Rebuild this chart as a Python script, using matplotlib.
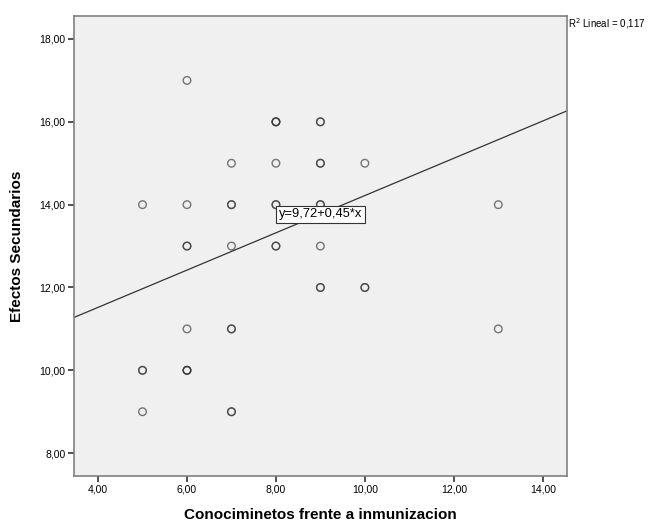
import numpy as np
import matplotlib
matplotlib.use("Agg")
import matplotlib.pyplot as plt

plt.rcParams['font.family'] = ['Liberation Sans', 'DejaVu Sans']

# puntos (conocimientos, efectos) y cuantas veces se repite cada uno
conoc = [5, 5, 5, 6, 6, 6, 6, 6, 7, 7, 7, 7, 7, 8, 8, 8, 8, 9, 9, 9, 9, 9, 10, 10, 13, 13]
efectos = [14, 10, 9, 17, 14, 13, 11, 10, 15, 14, 13, 11, 9, 16, 15, 14, 13, 16, 15, 14, 13, 12, 15, 12, 14, 11]
repes = [1, 2, 1, 1, 1, 2, 1, 3, 1, 2, 1, 2, 2, 3, 1, 2, 2, 2, 2, 2, 1, 2, 1, 2, 1, 1]

intercepto = 9.72
pendiente = 0.45
r2 = "0,117"

xticks = [4, 6, 8, 10, 12, 14]
yticks = [8, 10, 12, 14, 16, 18]


def coma(v):
    return ("%.2f" % v).replace(".", ",")


fig = plt.figure(figsize=(6.55, 5.23), dpi=100)
ax = fig.add_axes([0.113, 0.090, 0.753, 0.879])
ax.set_facecolor('#f0f0f0')

xs = np.repeat(conoc, repes)
ys = np.repeat(efectos, repes)
ax.scatter(xs, ys, s=30, facecolors='none', edgecolors=(0.2, 0.2, 0.2, 0.65),
           linewidths=1.0, zorder=3)

xl = (3.46, 14.55)
ax.plot(xl, [intercepto + pendiente * v for v in xl], color='#333333', lw=0.9, zorder=2)
ax.text(9.0, 13.77, "y=%s+%s*x" % (str(intercepto).replace(".", ","), str(pendiente).replace(".", ",")),
        ha='center', va='center', fontsize=9.3, zorder=4,
        bbox=dict(boxstyle='square,pad=0.2', fc='white', ec='#333333', lw=0.8))

ax.set_xlim(*xl)
ax.set_ylim(7.45, 18.55)
ax.set_xticks(xticks)
ax.set_yticks(yticks)
ax.set_xticklabels([coma(v) for v in xticks], fontsize=7.5)
ax.set_yticklabels([coma(v) for v in yticks], fontsize=7.5)
ax.tick_params(direction='out', length=4, width=1.2, color='#333333', pad=2)
for s in ax.spines.values():
    s.set_color('#808080')
    s.set_linewidth(1.2)

ax.set_xlabel("Conociminetos frente a inmunizacion", fontsize=11, fontweight='bold', labelpad=10)
ax.set_ylabel("Efectos Secundarios", fontsize=11, fontweight='bold', labelpad=11)

fig.text(0.867, 0.969, "R$^2$ Lineal = " + r2, fontsize=7, va='top', ha='left')

plt.savefig("out.png", dpi=100)
